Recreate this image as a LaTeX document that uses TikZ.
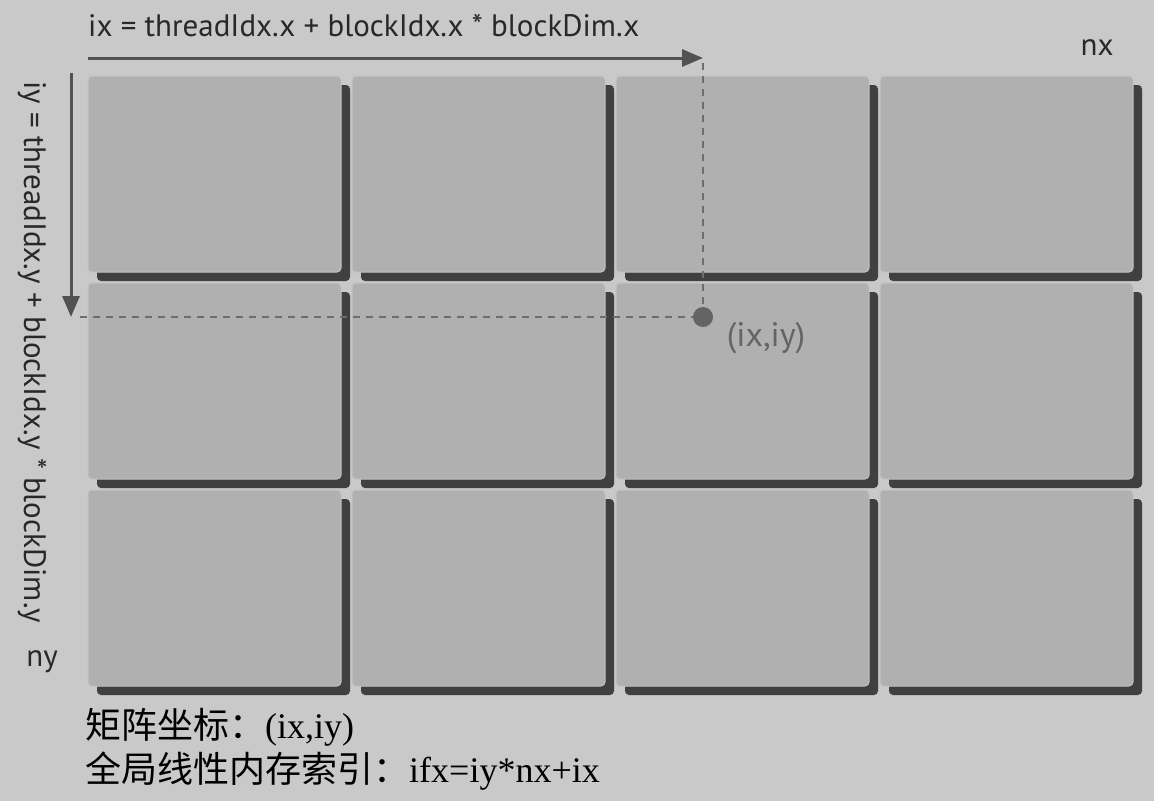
\documentclass[tikz,border=0pt]{standalone}
\usepackage{fontspec}
\setmainfont{Liberation Serif}
\setsansfont{PT Sans}
\newfontfamily\cjk{Noto Sans CJK SC}
\usetikzlibrary{arrows.meta}

\definecolor{bgGray}{RGB}{201,201,201}
\definecolor{faceGray}{RGB}{176,176,176}
\definecolor{rimGray}{RGB}{194,194,194}
\definecolor{shadowGray}{RGB}{64,64,64}
\definecolor{axisGray}{RGB}{82,82,82}
\definecolor{guideGray}{RGB}{110,110,110}
\definecolor{textGray}{RGB}{40,40,40}
\definecolor{pointGray}{RGB}{100,100,100}

\begin{document}
\begin{tikzpicture}[x=1pt, y=-1pt,
  face/.style={fill=faceGray, draw=rimGray, line width=1pt, rounded corners=4pt},
  shadow/.style={fill=shadowGray, rounded corners=4pt},
  axis/.style={draw=axisGray, line width=3pt, -{Triangle[length=21pt, width=17pt]}},
  guide/.style={draw=guideGray, line width=1.4pt, dash pattern=on 7pt off 6pt},
  label/.style={font=\sffamily\fontsize{31}{37}\selectfont, text=textGray, inner sep=0pt},
  note/.style={font=\fontsize{36}{42}\selectfont, text=black, inner sep=0pt, anchor=west}]
  \fill[bgGray] (0,0) rectangle (1154,801);
  \useasboundingbox (0,0) rectangle (1154,801);

  % the 4 x 3 grid of blocks
  \foreach \c in {0,...,3}
    \foreach \r in {0,...,2} {
      \fill[shadow] (97+264*\c, 85+207*\r) rectangle ++(253,196);
      \filldraw[face] (88+264*\c, 76+207*\r) rectangle ++(253,196);
    }

  \coordinate (xs) at (88,58);
  \coordinate (xe) at (703,58);
  \coordinate (ys) at (71,73);
  \coordinate (ye) at (71,317);
  \coordinate (gx) at (703,63);
  \coordinate (gy) at (80,317);
  \coordinate (P) at (703,317);

  \draw[axis] (xs)--(xe);
  \draw[axis] (ys)--(ye);
  \draw[guide] (gx)--(P);
  \draw[guide] (gy)--(P);
  \fill[pointGray] (P) circle (10);

  \node[label, anchor=base west] (ixlabel) at (88,36) {ix = threadIdx.x + blockIdx.x * blockDim.x};
  \node[label] (nx) at (1097,48) {nx};
  \node[label, rotate=-90] (iylabel) at (32,352) {iy = threadIdx.y + blockIdx.y * blockDim.y};
  \node[label] (ny) at (42,662) {ny};
  \node[label, font=\sffamily\fontsize{34}{40}\selectfont, text=pointGray] (pt) at (766,338) {(ix,iy)};

  \node[note] (coord) at (85,727) {{\cjk 矩阵坐标：}(ix,iy)};
  \node[note] (index) at (85,771) {{\cjk 全局线性内存索引：}ifx=iy*nx+ix};
\end{tikzpicture}
\end{document}
